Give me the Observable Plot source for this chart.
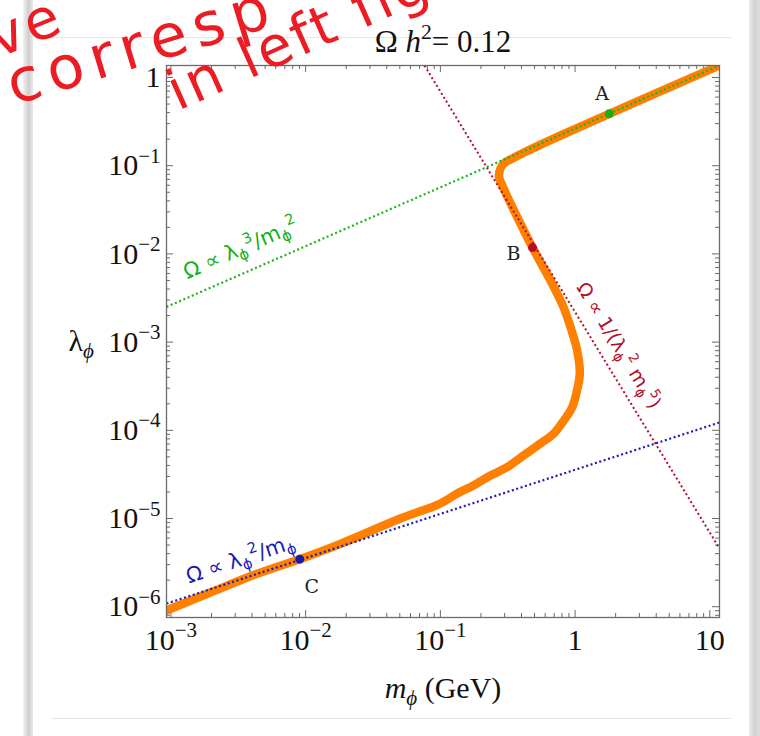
<!DOCTYPE html>
<html>
<head>
<meta charset="utf-8">
<script src="https://cdn.jsdelivr.net/npm/d3@7"></script>
<script src="https://cdn.jsdelivr.net/npm/@observablehq/plot@0.6"></script>
<style>
  body { margin: 0; background: #fff; }
  #page { position: relative; width: 760px; height: 736px; overflow: hidden; background: #fff; }
  .edge { position: absolute; top: 0; bottom: 0; }
  #edgeL { left: 23px; width: 10px; background: linear-gradient(to right, #f2f2f2, #cfcfcf 55%, #e8e8e8); }
  #edgeR { left: 749px; width: 11px; background: linear-gradient(to right, #ececec, #d2d2d2 50%, #dcdcdc); }
  .rule { position: absolute; left: 51px; width: 680px; height: 1px; background: #e6e6e6; }
  #chart { position: absolute; left: 0; top: 0; }
  #ink { position: absolute; left: 0; top: 0; pointer-events: none; }
</style>
</head>
<body>
<div id="page">
  <div class="edge" id="edgeL"></div>
  <div class="edge" id="edgeR"></div>
  <div class="rule" style="top:37px"></div>
  <div class="rule" style="top:718px"></div>
  <div id="chart"></div>
  <svg id="ink" width="760" height="736">
    <g fill="#ec1c24" font-family="'DejaVu Sans', sans-serif" font-size="56">
      <text transform="translate(68,30) rotate(-22)" text-anchor="end" letter-spacing="4">ve</text>
      <text transform="translate(14,105) rotate(-17)" font-size="60" letter-spacing="8">corresp</text>
      <text transform="translate(178,111) rotate(-24)" letter-spacing="3">in left fig</text>
    </g>
  </svg>
</div>
<script>
// Axis ticks (log scales) and their labels
const xMajor = [1e-3, 1e-2, 1e-1, 1, 10];
const xMajorLabel = ["10^{−3}", "10^{−2}", "10^{−1}", "1", "10"];
const yMajor = [1e-6, 1e-5, 1e-4, 1e-3, 1e-2, 1e-1, 1];
const yMajorLabel = ["10^{−6}", "10^{−5}", "10^{−4}", "10^{−3}", "10^{−2}", "10^{−1}", "1"];

// Relic-abundance contour Ωh² = 0.12: scalar mass (GeV) and self-coupling
const relicMass = [11.8, 1.79, 0.78, 0.45, 0.34, 0.295, 0.279, 0.272, 0.288, 0.372, 0.483,
  0.656, 0.82, 0.925, 1.036, 1.084, 1.047, 0.952, 0.824, 0.695, 0.553, 0.414, 0.313,
  0.2355, 0.176, 0.1334, 0.1, 0.0505, 0.0181, 0.00904, 0.00436, 0.00196, 0.000927];
const relicLambda = [1.368, 0.387, 0.22, 0.149, 0.12, 0.106, 0.093, 0.0755, 0.0597, 0.0261, 0.0118,
  0.00499, 0.00249, 0.001476, 0.000804, 0.000441, 0.000308, 0.000183, 0.000129, 9.2e-5, 7.08e-5, 5.18e-5, 3.82e-5,
  3.07e-5, 2.37e-5, 1.92e-5, 1.48e-5, 1.0e-5, 5.16e-6, 3.46e-6, 2.36e-6, 1.45e-6, 9.06e-7];

// Asymptotic scalings (end points of each straight line)
const cubicMass = [0.000927, 11.8];      // Ω ∝ λ³/m²
const cubicLambda = [0.002506, 1.368];
const quadMass = [0.000927, 11.8];       // Ω ∝ λ²/m
const quadLambda = [1.086e-6, 1.227e-4];
const inverseMass = [0.0762, 11.8];      // Ω ∝ 1/(λ² m⁵)
const inverseLambda = [1.368, 4.58e-6];

// Benchmark points
const pointName = ["A", "B", "C"];
const pointMass = [1.79, 0.483, 0.00904];
const pointLambda = [0.387, 0.0118, 3.46e-6];

// Scaling annotations
const noteText = ["Ω ∝ λ_{ϕ}^{3}/m_{ϕ}^{2}", "Ω ∝ 1/(λ_{ϕ}^{2} m_{ϕ}^{5})", "Ω ∝ λ_{ϕ}^{2}/m_{ϕ}"];
const noteMass = [0.0033, 1.42, 0.00328];
const noteLambda = [0.00585, 9.14e-4, 2.05e-6];

const titleText = "Ω *h*^{2}= 0.12";
const xTitle = "*m*_{*ϕ*} (GeV)";
const yTitle = "λ_{*ϕ*}";

const pts = (ms, ls) => ms.map((m, i) => ({m, lambda: ls[i]}));
const relic = pts(relicMass, relicLambda);
const cubic = pts(cubicMass, cubicLambda);
const quad = pts(quadMass, quadLambda);
const inverse = pts(inverseMass, inverseLambda);

const W = 760, H = 736, mT = 65, mB = 119, mL = 166, mR = 41;
const innerH = H - mT - mB, innerW = W - mL - mR;
const xDomain = [0.000927, 11.8], yDomain = [7.55e-7, 1.368];

const minors = (decades, [lo, hi]) => decades.flatMap(d => [2, 3, 4, 5, 6, 7, 8, 9].map(k => k * d))
  .filter(v => v >= lo && v <= hi);
const xMinor = minors([1e-4, ...xMajor], xDomain);
const yMinor = minors([1e-7, ...yMajor], yDomain);

const axisGray = "#6a6a6a";
const serif = "'Liberation Serif', 'Times New Roman', serif";
const tickMarks = (len, values, dim) => dim === "x"
  ? [Plot.tickX(values, {x: d => d, insetTop: innerH - len, stroke: axisGray, strokeWidth: 1}),
     Plot.tickX(values, {x: d => d, insetBottom: innerH - len, stroke: axisGray, strokeWidth: 1})]
  : [Plot.tickY(values, {y: d => d, insetRight: innerW - len, stroke: axisGray, strokeWidth: 1}),
     Plot.tickY(values, {y: d => d, insetLeft: innerW - len, stroke: axisGray, strokeWidth: 1})];

const dotted = (data, color, width) => Plot.line(data, {x: "m", y: "lambda", stroke: color,
  strokeWidth: width, strokeDasharray: "2,2.6", strokeLinecap: "butt", clip: true});

const noteMark = (i, color, rotate, dx, dy, size) => Plot.text([i], {
  x: j => noteMass[j], y: j => noteLambda[j], text: j => noteText[j],
  fill: color, rotate, dx, dy, fontSize: size, fontFamily: "'DejaVu Sans', sans-serif",
  textAnchor: "middle", lineAnchor: "middle"});

const pointMark = (i, color, dx, dy) => [
  Plot.dot([i], {x: j => pointMass[j], y: j => pointLambda[j], r: 4.5, fill: color, stroke: "none"}),
  Plot.text([i], {x: j => pointMass[j], y: j => pointLambda[j], text: j => pointName[j],
    dx, dy, fontSize: 19, fontFamily: "'DejaVu Serif', serif", fill: "#222"})
];

const chart = Plot.plot({
  width: W, height: H,
  marginTop: mT, marginBottom: mB, marginLeft: mL, marginRight: mR,
  x: {type: "log", domain: xDomain, axis: null},
  y: {type: "log", domain: yDomain, axis: null},
  style: {fontFamily: serif, background: "transparent", overflow: "visible"},
  marks: [
    ...tickMarks(7, xMajor, "x"), ...tickMarks(4, xMinor, "x"),
    ...tickMarks(7, yMajor, "y"), ...tickMarks(4, yMinor, "y"),
    Plot.line(relic, {x: "m", y: "lambda", stroke: "#ff7f00", strokeWidth: 8.5,
      curve: "catmull-rom", clip: true}),
    dotted(cubic, "#1cb51c", 2.2),
    dotted(inverse, "#b3102c", 2),
    dotted(quad, "#1c1cb8", 2.2),
    ...pointMark(0, "#14b014", -7, -20),
    ...pointMark(1, "#b0102a", -19, 6),
    ...pointMark(2, "#1a1aa8", 12, 28),
    noteMark(0, "#16b016", -23.6, 0, -26, 21),
    noteMark(1, "#b0102a", 58.6, 23, 0, 19),
    noteMark(2, "#1c1cb8", -18.5, 0, -20, 21),
    Plot.frame({stroke: axisGray, strokeWidth: 1.3}),
    Plot.text(xMajor, {x: d => d, frameAnchor: "bottom", text: (d, i) => xMajorLabel[i],
      dy: 11, lineAnchor: "top", fontSize: 30, fill: "#111"}),
    Plot.text(yMajor, {y: d => d, frameAnchor: "left", text: (d, i) => yMajorLabel[i],
      dx: -6, textAnchor: "end", lineAnchor: "middle", fontSize: 30, fill: "#111"}),
    Plot.text([titleText], {frameAnchor: "top", dy: -23, lineAnchor: "middle", fontSize: 31, fill: "#111"}),
    Plot.text([xTitle], {frameAnchor: "bottom", dy: 71, lineAnchor: "middle", fontSize: 30, fill: "#111"}),
    Plot.text([yTitle], {frameAnchor: "left", dx: -98, textAnchor: "start", lineAnchor: "middle", fontSize: 30, fill: "#111"})
  ]
});
document.getElementById("chart").appendChild(chart);

// Turn ^{..}, _{..} and *..* markup into superscript, subscript and italic tspans
function richText(el, src) {
  const base = parseFloat(getComputedStyle(el).fontSize) || 16;
  const segs = [];
  let italic = false, mode = "", buf = "";
  const push = () => { if (buf) segs.push({t: buf, italic, mode}); buf = ""; };
  for (let i = 0; i < src.length; i++) {
    const c = src[i];
    if (c === "*") { push(); italic = !italic; }
    else if ((c === "^" || c === "_") && src[i + 1] === "{") { push(); mode = c === "^" ? "sup" : "sub"; i++; }
    else if (c === "}" && mode) { push(); mode = ""; }
    else buf += c;
  }
  push();
  el.textContent = "";
  let shift = 0;
  for (const s of segs) {
    const target = s.mode === "sup" ? -0.42 * base : s.mode === "sub" ? 0.24 * base : 0;
    const ts = document.createElementNS("http://www.w3.org/2000/svg", "tspan");
    if (target !== shift) ts.setAttribute("dy", target - shift);
    if (s.mode) ts.setAttribute("font-size", 0.7 * base);
    if (s.italic) ts.setAttribute("font-style", "italic");
    ts.textContent = s.t;
    el.appendChild(ts);
    shift = target;
  }
}
chart.querySelectorAll("text").forEach(el => {
  const s = el.textContent;
  if (/[\^_]\{|\*/.test(s)) richText(el, s);
});
</script>
</body>
</html>
